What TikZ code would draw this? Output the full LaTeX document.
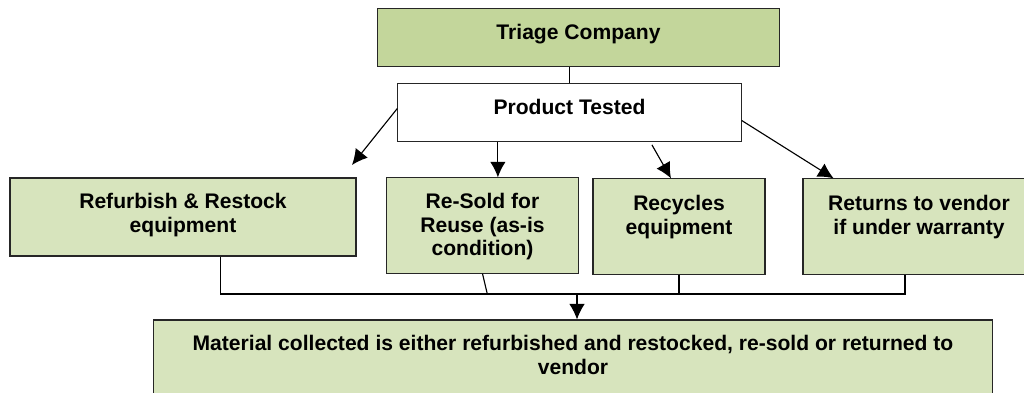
\documentclass[tikz,border=0pt]{standalone}
\usepackage{fontspec}
\setmainfont{Liberation Sans}
\usepackage{tikz}
\usetikzlibrary{arrows.meta,calc,positioning,shapes}
\definecolor{olivedark}{HTML}{C3D69B}
\definecolor{olivelight}{HTML}{D7E4BD}
\tikzset{%
	block/.style    = {draw=black!85, rectangle, line width=0.8pt, fill=olivelight}, % green box
	head/.style     = {block, fill=olivedark}, % top box
	test/.style     = {block, fill=white}, % white box
	boxtext/.style  = {anchor=north, inner sep=0pt, align=center, font=\bfseries\fontsize{15}{16.7}\selectfont},
	link/.style     = {line width=0.8pt},
	arrow/.style    = {line width=0.8pt, -{Latex[length=11pt,width=11pt]}},
}
\begin{document}
\begin{tikzpicture}[x=0.025cm, y=-0.025cm]
	\useasboundingbox (0,0) rectangle (1024,393);
	% boxes
	\node[head, minimum width=10.03cm, minimum height=1.43cm] (triage) at (578.5,37.5) {};
	\node[test, minimum width=8.58cm, minimum height=1.43cm] (tested) at (569.5,112.5) {};
	\node[block, minimum width=8.65cm, minimum height=1.95cm] (refurb) at (183,217) {};
	\node[block, minimum width=4.78cm, minimum height=2.38cm] (resold) at (482.5,225.5) {};
	\node[block, minimum width=4.3cm, minimum height=2.38cm] (recycle) at (679,226.5) {};
	\node[block, minimum width=5.8cm, minimum height=2.38cm] (returns) at (919,226.5) {};
	\node[block, minimum width=20.95cm, minimum height=2.25cm] (collect) at (573,365) {};
	% texts
	\node[boxtext, below=0.4cm of triage.north] (triage-txt) {Triage Company};
	\node[boxtext, below=0.4cm of tested.north] (tested-txt) {Product Tested};
	\node[boxtext, below=0.4cm of refurb.north] (refurb-txt) {Refurbish \& Restock\\equipment};
	\node[boxtext, below=0.4cm of resold.north] (resold-txt) {Re-Sold for\\Reuse (as-is\\condition)};
	\node[boxtext, below=0.42cm of recycle.north] (recycle-txt) {Recycles\\equipment};
	\node[boxtext, below=0.42cm of returns.north] (returns-txt) {Returns to vendor\\if under warranty};
	\node[boxtext, below=0.4cm of collect.north] (collect-txt) {Material collected is either refurbished and restocked, re-sold or returned to\\vendor};
	% links
	\coordinate (refurb-tip) at (352,165);
	\coordinate (bus) at (0,294);
	\draw[link] (tested.north) -- (tested.north |- triage.south);
	\draw[arrow] ([yshift=0.1cm]tested.west) -- (refurb-tip);
	\draw[arrow] ([xshift=-1.79cm]tested.south) -- ([xshift=-1.79cm]tested.south |- resold.north);
	\draw[arrow] ([xshift=2.06cm,yshift=-0.08cm]tested.south) -- ([xshift=-0.2cm]recycle.north);
	\draw[arrow] ([yshift=-0.2cm]tested.east) -- ([xshift=0.78cm]returns.north west);
	\draw[link] ([xshift=0.93cm]refurb.south) |- ([xshift=-0.35cm]returns.south |- bus) -- ([xshift=-0.35cm]returns.south);
	\draw[link] (resold.south) -- ([xshift=0.12cm]resold.south |- bus);
	\draw[link] (recycle.south) -- (recycle.south |- bus);
	\draw[arrow] ([xshift=0.1cm]collect.north |- bus) -- ([xshift=0.1cm]collect.north);
\end{tikzpicture}
\end{document}
